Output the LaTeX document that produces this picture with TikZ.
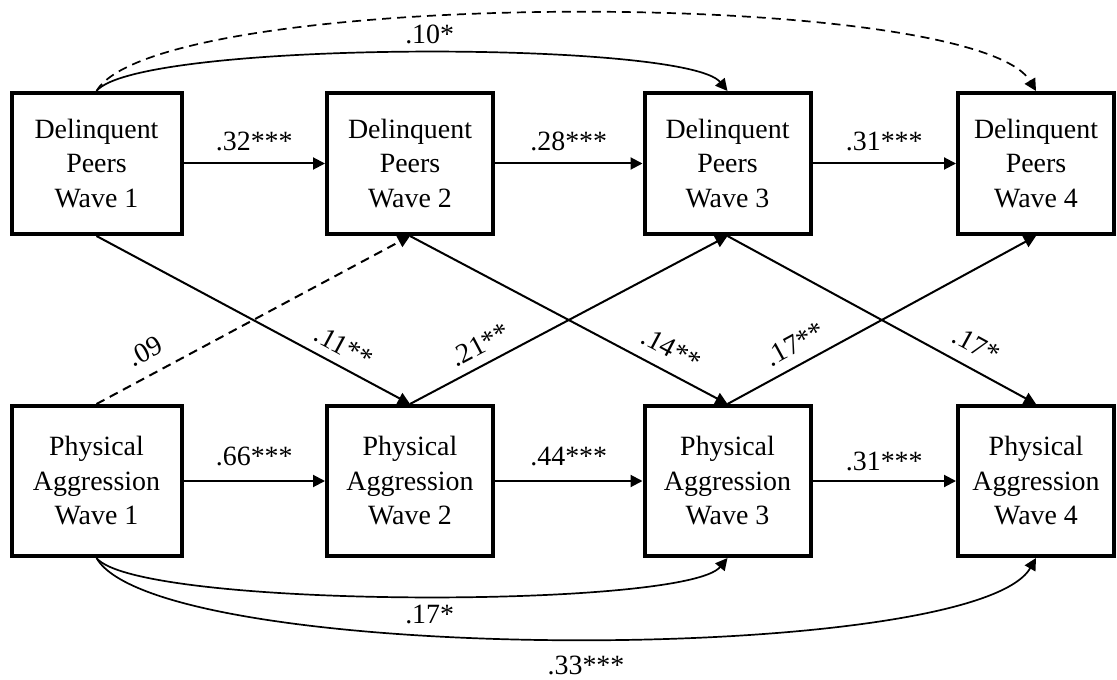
\documentclass[tikz,border=0pt]{standalone}
\usepackage{fontspec}
\setmainfont{Liberation Serif}
\usepackage{tikz}
\usetikzlibrary{arrows.meta}
\tikzstyle{wavebox} = [rectangle, minimum width=83pt, minimum height=70.5pt, inner sep=0pt, align=center, draw=black, line width=2pt, font=\fontsize{13.95}{17.25}\selectfont]
\tikzstyle{arrow} = [line width=1pt,->,>={Triangle[length=6pt,width=6pt]}]
\tikzstyle{dasharrow} = [arrow, dash pattern=on 4.5pt off 3pt]
\tikzstyle{coef} = [inner sep=1pt, font=\fontsize{13.95}{17.25}\selectfont]

\begin{document}
\begin{tikzpicture}[x=0.5pt, y=-0.5pt, node distance=156.75pt]
    \useasboundingbox (0,0) rectangle (1117,679);
    % delinquent peers
    \node (DP1) [wavebox, minimum width=85pt] at (96.5,163.5) {Delinquent\\Peers\\Wave 1};
    \node (DP2) [wavebox, right of=DP1] {Delinquent\\Peers\\Wave 2};
    \node (DP3) [wavebox, right of=DP2, xshift=2pt] {Delinquent\\Peers\\Wave 3};
    \node (DP4) [wavebox, right of=DP3, xshift=-2.5pt, minimum width=78pt] {Delinquent\\Peers\\Wave 4};
    % physical aggression
    \node (PA1) [wavebox, below of=DP1, yshift=-2pt, minimum width=85pt, minimum height=75pt] {Physical\\Aggression\\Wave 1};
    \node (PA2) [wavebox, right of=PA1, minimum height=75pt] {Physical\\Aggression\\Wave 2};
    \node (PA3) [wavebox, right of=PA2, xshift=2pt, minimum height=75pt] {Physical\\Aggression\\Wave 3};
    \node (PA4) [wavebox, right of=PA3, xshift=-2.5pt, minimum width=78pt, minimum height=75pt] {Physical\\Aggression\\Wave 4};
    % stability paths
    \draw [arrow] (DP1) -- node[coef, above=5pt] {.32***} (DP2);
    \draw [arrow] (DP2) -- node[coef, above=5pt] {.28***} (DP3);
    \draw [arrow] (DP3) -- node[coef, above=5pt] {.31***} (DP4);
    \draw [arrow] (PA1) -- node[coef, above=6pt] {.66***} (PA2);
    \draw [arrow] (PA2) -- node[coef, above=6pt] {.44***} (PA3);
    \draw [arrow] (PA3) -- node[coef, above=3.5pt] {.31***} (PA4);
    % cross-lagged paths
    \draw [dasharrow] (PA1.north) -- node[coef, sloped, above=5.5pt, pos=0.19] {.09} (DP2.south);
    \draw [arrow] (DP1.south) -- node[coef, sloped, above=3.5pt, pos=0.76] {.11**} (PA2.north);
    \draw [arrow] (PA2.north) -- node[coef, sloped, above=3.5pt, pos=0.25] {.21**} (DP3.south);
    \draw [arrow] (DP2.south) -- node[coef, sloped, above=5pt, pos=0.79] {.14**} (PA3.north);
    \draw [arrow] (PA3.north) -- node[coef, sloped, above=4pt, pos=0.25] {.17**} (DP4.south);
    \draw [arrow] (DP3.south) -- node[coef, sloped, above=5.5pt, pos=0.77] {.17*} (PA4.north);
    % lag-2 and lag-3 paths
    \draw [arrow, line width=0.85pt] (DP1.north) .. controls +(42,-51) and +(-42,-51) .. node[coef, pos=0.52, above=3pt] {.10*} (DP3.north);
    \draw [dasharrow, line width=0.85pt] (DP1.north) .. controls +(62,-104) and +(-62,-104) .. (DP4.north);
    \draw [arrow, line width=0.85pt] (PA1.south) .. controls +(42,51) and +(-42,51) .. node[coef, pos=0.52, below=3pt] {.17*} (PA3.south);
    \draw [arrow, line width=0.85pt] (PA1.south) .. controls +(62,108) and +(-62,108) .. node[coef, pos=0.515, below=7pt] {.33***} (PA4.south);
\end{tikzpicture}
\end{document}
